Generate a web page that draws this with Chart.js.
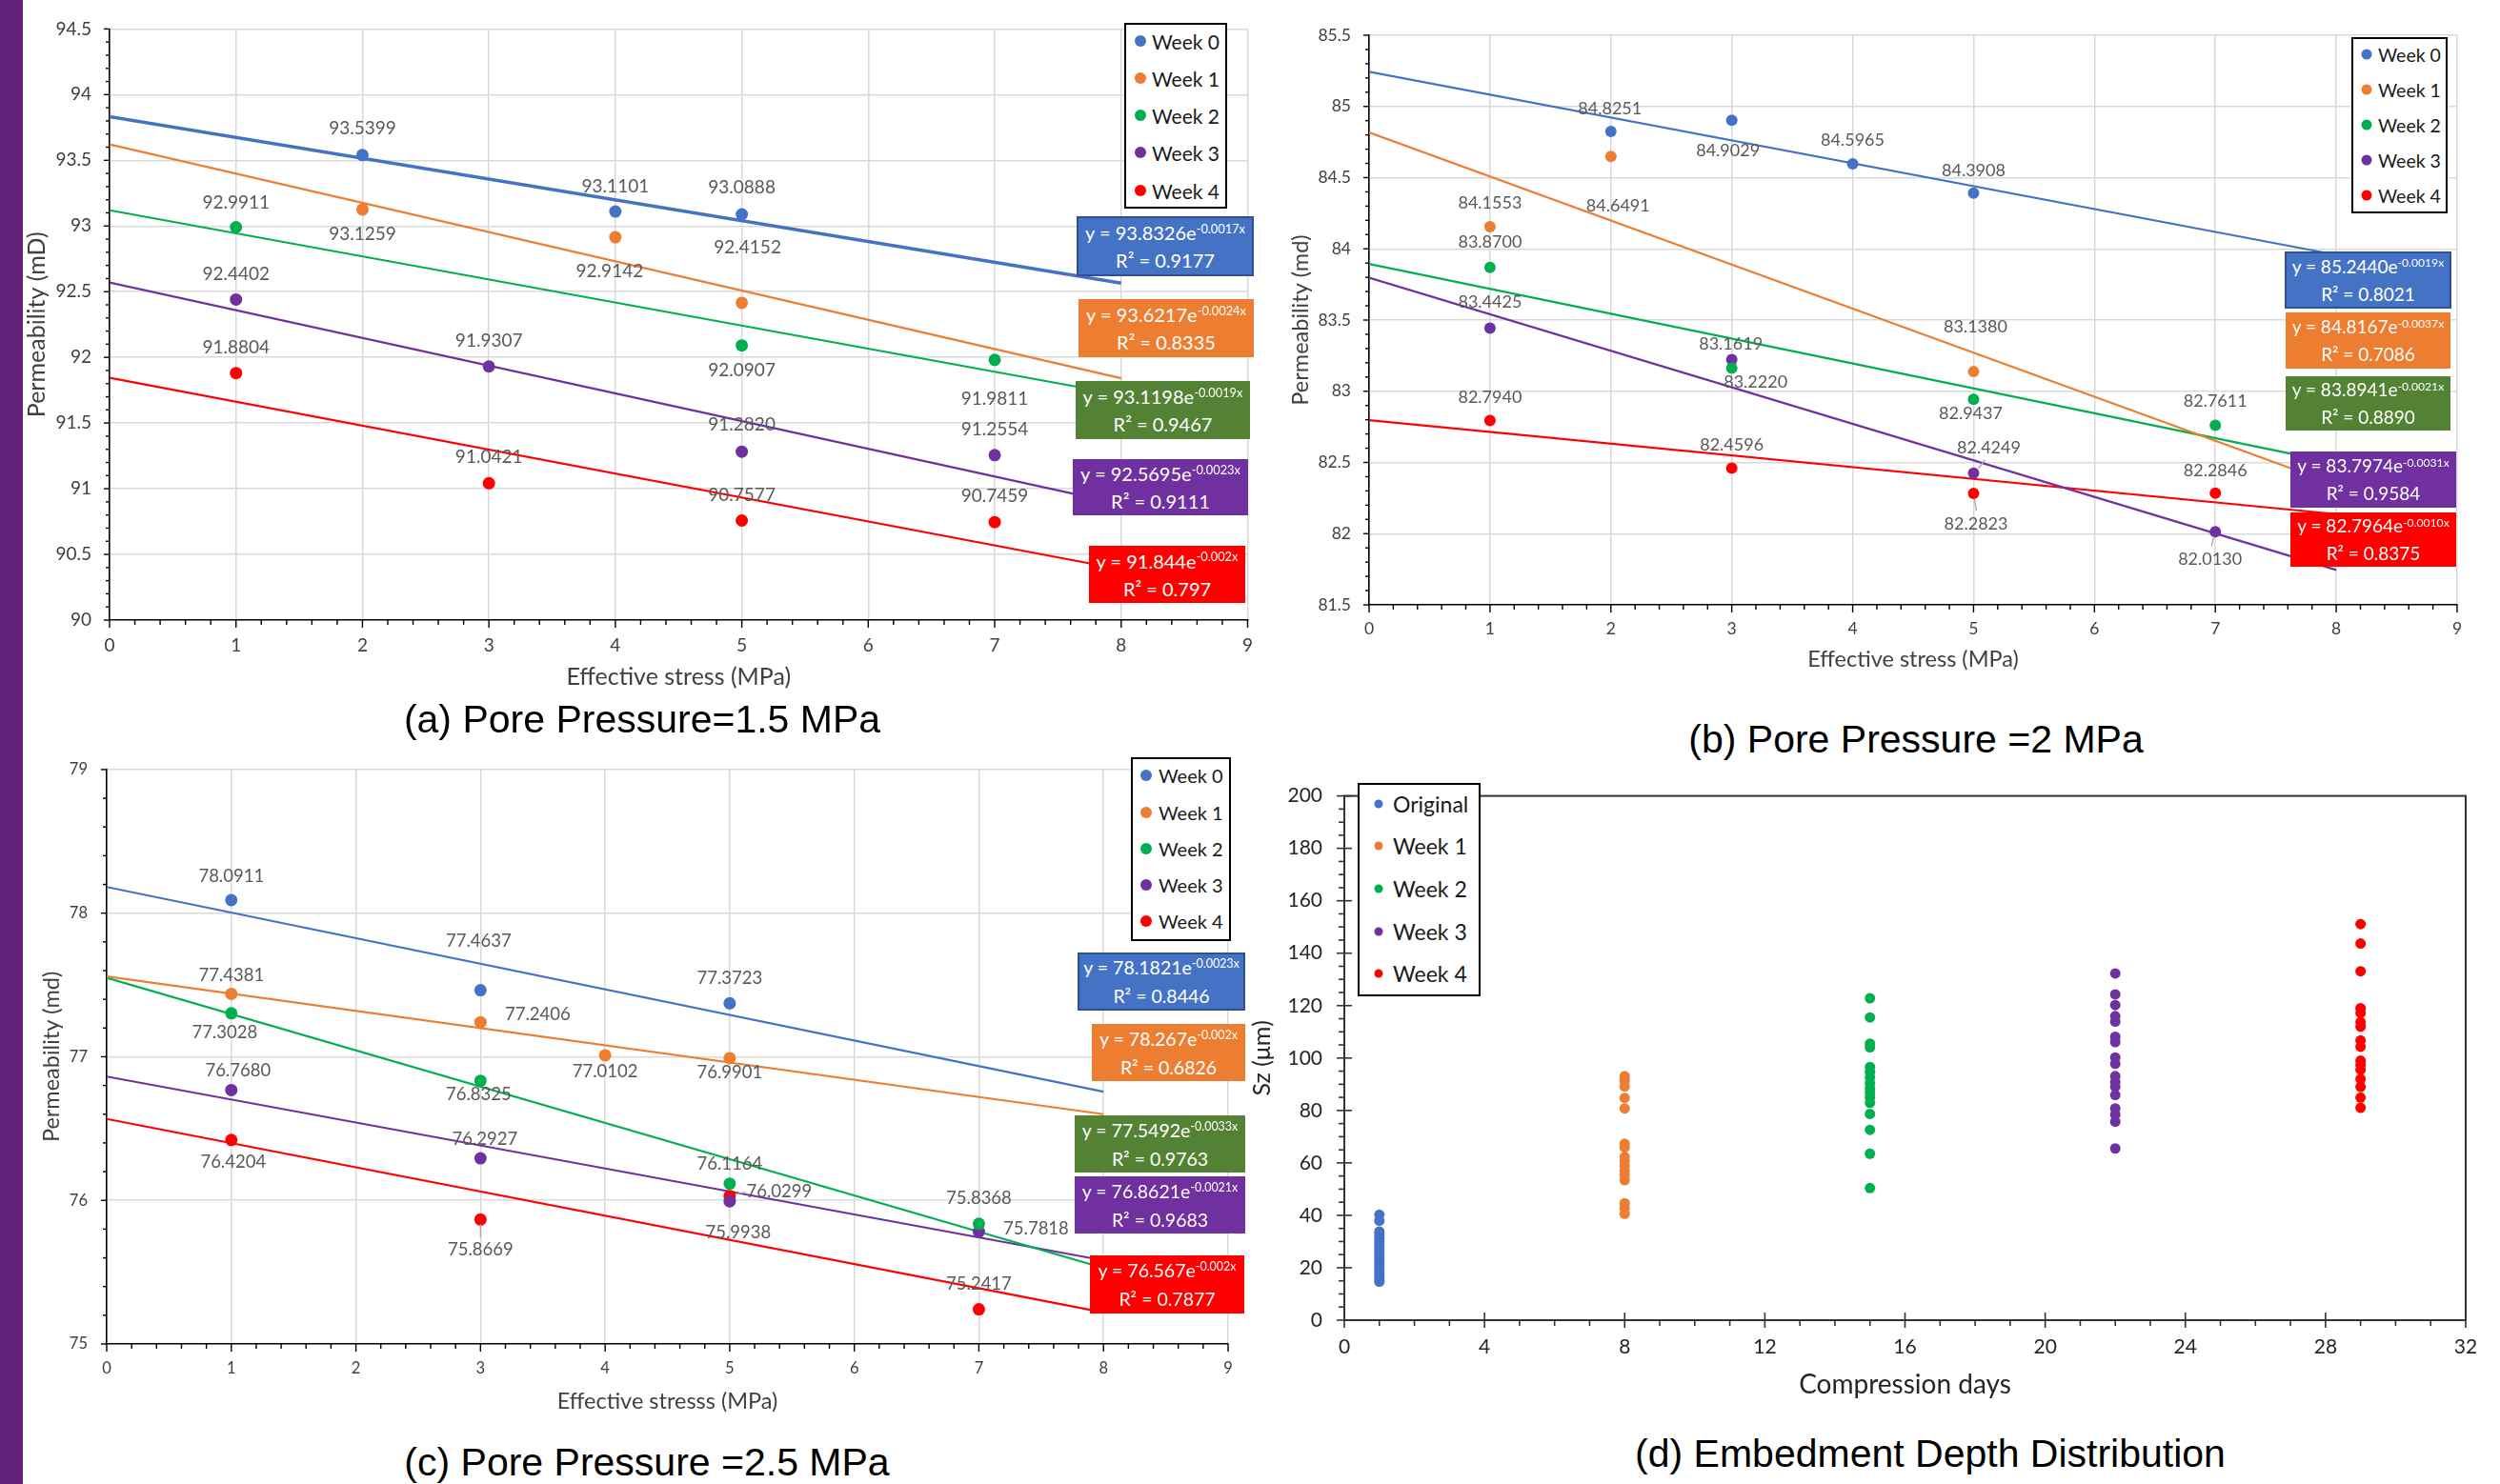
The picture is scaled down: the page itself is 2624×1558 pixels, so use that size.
<!DOCTYPE html>
<html><head><meta charset="utf-8">
<script src="https://cdn.jsdelivr.net/npm/chart.js@4.4.1/dist/chart.umd.min.js"></script>
<style>
html,body{margin:0;padding:0;background:#fff;}
body{width:2624px;height:1558px;position:relative;overflow:hidden;font-family:Lato,"Open Sans",sans-serif;}
#stripe{position:absolute;left:0;top:0;width:24px;height:1558px;background:#62247b;}
canvas{position:absolute;}
.ptitle{position:absolute;font-family:"Liberation Sans",Arial,sans-serif;font-size:41px;color:#000;white-space:nowrap;transform:translate(-50%,-50%);}
.eq{position:absolute;box-sizing:border-box;color:#fff;display:flex;flex-direction:column;justify-content:center;align-items:center;font-family:Lato,sans-serif;white-space:nowrap;}
.eq .sup{font-size:0.64em;position:relative;top:-0.55em;}
.legend{position:absolute;box-sizing:border-box;border:2px solid #000;background:#fff;}
.litem{position:absolute;white-space:nowrap;transform:translateY(-50%);font-family:Lato,sans-serif;color:#1a1a1a;}
.ldot{position:absolute;border-radius:50%;transform:translate(-50%,-50%);}
</style></head>
<body>
<div id="stripe"></div>
<script>
// ---------------- DATA ----------------
const WEEKS = ['Week 0','Week 1','Week 2','Week 3','Week 4'];
const D_LABELS = ['Original','Week 1','Week 2','Week 3','Week 4'];
const TREND_X = [0, 8];

// (a) Pore Pressure = 1.5 MPa
const A_X_W0 = [2, 4, 5];       const A_Y_W0 = [93.5399, 93.1101, 93.0888];
const A_X_W1 = [2, 4, 5];       const A_Y_W1 = [93.1259, 92.9142, 92.4152];
const A_X_W2 = [1, 5, 7];       const A_Y_W2 = [92.9911, 92.0907, 91.9811];
const A_X_W3 = [1, 3, 5, 7];    const A_Y_W3 = [92.4402, 91.9307, 91.2820, 91.2554];
const A_X_W4 = [1, 3, 5, 7];    const A_Y_W4 = [91.8804, 91.0421, 90.7577, 90.7459];
const A_T_W0 = [93.8326, 92.565];
const A_T_W1 = [93.6217, 91.841];
const A_T_W2 = [93.1198, 91.715];
const A_T_W3 = [92.5695, 90.882];
const A_T_W4 = [91.844, 90.386];
const A_EQ_COEF = ['93.8326','93.6217','93.1198','92.5695','91.844'];
const A_EQ_EXP  = ['-0.0017x','-0.0024x','-0.0019x','-0.0023x','-0.002x'];
const A_EQ_R2   = ['0.9177','0.8335','0.9467','0.9111','0.797'];
const A_XTICKS = [0,1,2,3,4,5,6,7,8,9];
const A_YTICKS = [90,90.5,91,91.5,92,92.5,93,93.5,94,94.5];

// (b) Pore Pressure = 2 MPa
const B_X_W0 = [2, 3, 4, 5];    const B_Y_W0 = [84.8251, 84.9029, 84.5965, 84.3908];
const B_X_W1 = [1, 2, 5];       const B_Y_W1 = [84.1553, 84.6491, 83.1380];
const B_X_W2 = [1, 3, 5, 7];    const B_Y_W2 = [83.8700, 83.1619, 82.9437, 82.7611];
const B_X_W3 = [1, 3, 5, 7];    const B_Y_W3 = [83.4425, 83.2220, 82.4249, 82.0130];
const B_X_W4 = [1, 3, 5, 7];    const B_Y_W4 = [82.7940, 82.4596, 82.2823, 82.2846];
const B_T_W0 = [85.244, 83.958];
const B_T_W1 = [84.8167, 82.343];
const B_T_W2 = [83.8941, 82.496];
const B_T_W3 = [83.7974, 81.745];
const B_T_W4 = [82.7964, 82.137];
const B_EQ_COEF = ['85.2440','84.8167','83.8941','83.7974','82.7964'];
const B_EQ_EXP  = ['-0.0019x','-0.0037x','-0.0021x','-0.0031x','-0.0010x'];
const B_EQ_R2   = ['0.8021','0.7086','0.8890','0.9584','0.8375'];
const B_XTICKS = [0,1,2,3,4,5,6,7,8,9];
const B_YTICKS = [81.5,82,82.5,83,83.5,84,84.5,85,85.5];

// (c) Pore Pressure = 2.5 MPa
const C_X_W0 = [1, 3, 5];       const C_Y_W0 = [78.0911, 77.4637, 77.3723];
const C_X_W1 = [1, 3, 4, 5];    const C_Y_W1 = [77.4381, 77.2406, 77.0102, 76.9901];
const C_X_W2 = [1, 3, 5, 7];    const C_Y_W2 = [77.3028, 76.8325, 76.1164, 75.8368];
const C_X_W3 = [1, 3, 5, 7];    const C_Y_W3 = [76.7680, 76.2927, 75.9938, 75.7818];
const C_X_W4 = [1, 3, 5, 7];    const C_Y_W4 = [76.4204, 75.8669, 76.0299, 75.2417];
const C_T_W0 = [78.1821, 76.757];
const C_T_W1 = [77.56, 76.60];
const C_T_W2 = [77.5492, 75.529];
const C_T_W3 = [76.8621, 75.582];
const C_T_W4 = [76.567, 75.22];
const C_EQ_COEF = ['78.1821','78.267','77.5492','76.8621','76.567'];
const C_EQ_EXP  = ['-0.0023x','-0.002x','-0.0033x','-0.0021x','-0.002x'];
const C_EQ_R2   = ['0.8446','0.6826','0.9763','0.9683','0.7877'];
const C_XTICKS = [0,1,2,3,4,5,6,7,8,9];
const C_YTICKS = [75,76,77,78,79];

// (d) Embedment depth distribution
const D_DAYS = [1, 8, 15, 22, 29];
const D_ORIGINAL = [40.2, 37.9, 33.8, 32.6, 31.3, 30.0, 28.9, 27.6, 26.4, 25.2, 24.0, 22.7, 21.5, 20.3, 19.1, 17.9, 16.6, 15.4, 14.7];
const D_WEEK1 = [93.1, 91.4, 89.2, 84.8, 80.8, 67.3, 65.9, 62.3, 60.6, 58.8, 57.0, 55.3, 53.4, 44.6, 42.8, 40.6];
const D_WEEK2 = [122.8, 115.5, 105.5, 104.1, 96.6, 94.7, 92.6, 90.4, 88.4, 86.7, 84.9, 82.9, 78.7, 72.6, 63.5, 50.4];
const D_WEEK3 = [132.3, 124.3, 120.2, 116.0, 113.9, 108.1, 106.1, 100.2, 97.8, 93.1, 90.8, 89.0, 85.9, 80.8, 78.4, 75.7, 65.5];
const D_WEEK4 = [151.1, 143.7, 133.1, 119.0, 117.2, 113.7, 112.0, 106.7, 104.3, 99.0, 97.3, 95.5, 92.0, 89.0, 84.9, 81.0];
const D_XTICKS = [0,4,8,12,16,20,24,28,32];
const D_YTICKS = [0,20,40,60,80,100,120,140,160,180,200];

// ---------------- STYLE ----------------
const COLORS = ['#4472c4','#ed7d31','#00b050','#7030a0','#ff0000'];
const BOX_COLORS = ['#4472c4','#ed7d31','#548235','#7030a0','#ff0000'];

// label offsets [dx, dy, (leader x1,y1,x2,y2)] relative to point, px
const A_OFF = [
  [[0,-28],[0,-26],[0,-28]],
  [[0,26],[-6,36],[6,-58]],
  [[0,-26],[0,26],[0,41]],
  [[0,-27],[0,-27],[0,-28],[0,-27]],
  [[0,-27],[0,-27],[0,-27],[0,-27]]
];
const B_OFF = [
  [[-1,-24],[-4,32],[0,-25],[0,-24]],
  [[0,-25],[7.5,52],[2,-47]],
  [[0,-26],[-1,-25],[-3,15],[0,-25]],
  [[0,-27],[25,24],[16,-27,5,-5,12,-14],[-5.6,28.5,-2,6,-4,15]],
  [[0,-24],[0,-24],[2.6,32,1,6,3,18],[0,-24]]
];
const C_OFF = [
  [[0,-25],[-2,-52],[0,-26]],
  [[0,-19],[60,-8.6],[0,17],[0,15]],
  [[-7,20],[-2,14],[0,-21],[0,-27]],
  [[7,-20],[4.5,-20],[9,33],[60,-3.5]],
  [[2,22.7],[0,32,0,5,0,19],[52,-5,7,-2,17,-4],[0,-27]]
];

const SPEC = {};

// ---------------- PLUGINS ----------------
const tickMarks = {
  id: 'tickMarks',
  afterDraw(chart) {
    const spec = SPEC[chart.canvas.id]; const a = chart.chartArea; const ctx = chart.ctx;
    ctx.save(); ctx.strokeStyle = spec.axisColor; ctx.lineWidth = spec.tickWidth;
    ['x','y'].forEach(ax => {
      const t = spec.ticks[ax]; const sc = chart.scales[ax];
      const n = Math.round((sc.max - sc.min) / t.minor);
      for (let i = 0; i <= n; i++) {
        const v = sc.min + i * t.minor;
        const q = v / t.major; const isMajor = Math.abs(q - Math.round(q)) < 1e-6;
        const out = isMajor ? t.majorOut : t.minorOut; const inn = isMajor ? (t.majorIn || 0) : 0;
        const p = sc.getPixelForValue(v);
        ctx.beginPath();
        if (ax === 'x') { ctx.moveTo(p, a.bottom - inn); ctx.lineTo(p, a.bottom + out); }
        else { ctx.moveTo(a.left + inn, p); ctx.lineTo(a.left - out, p); }
        ctx.stroke();
      }
    });
    if (spec.frame) { ctx.lineWidth = spec.axisWidth; ctx.strokeRect(a.left, a.top, a.right - a.left, a.bottom - a.top); }
    ctx.restore();
  }
};
const valueLabels = {
  id: 'valueLabels',
  afterDatasetsDraw(chart) {
    const spec = SPEC[chart.canvas.id]; if (!spec.labelFont) return;
    const ctx = chart.ctx; ctx.save();
    ctx.font = spec.labelFont; ctx.fillStyle = '#595959'; ctx.textAlign = 'center'; ctx.textBaseline = 'middle';
    ctx.strokeStyle = '#a6a6a6'; ctx.lineWidth = 1.3;
    chart.data.datasets.forEach((ds, di) => {
      if (!ds.labelOffsets) return;
      const meta = chart.getDatasetMeta(di);
      meta.data.forEach((el, j) => {
        const o = ds.labelOffsets[j]; if (!o) return;
        if (o.length > 2) { ctx.beginPath(); ctx.moveTo(el.x + o[2], el.y + o[3]); ctx.lineTo(el.x + o[4], el.y + o[5]); ctx.stroke(); }
        ctx.fillText(ds.data[j].y.toFixed(4), el.x + o[0], el.y + o[1]);
      });
    });
    ctx.restore();
  }
};

function buildPanel(cfg) {
  const cv = document.createElement('canvas');
  cv.id = cfg.id; cv.width = cfg.W; cv.height = cfg.H;
  Object.assign(cv.style, {left: cfg.L + 'px', top: cfg.T + 'px', width: cfg.W + 'px', height: cfg.H + 'px'});
  document.body.appendChild(cv);
  SPEC[cfg.id] = cfg;
  const datasets = [];
  cfg.series.forEach((s, i) => {
    if (s.trend) datasets.push({ data: TREND_X.map((x, j) => ({x, y: s.trend[j]})), showLine: true,
      borderColor: COLORS[i], borderWidth: s.tw || 2.2, pointRadius: 0, pointHoverRadius: 0, order: 2 });
    datasets.push({ data: s.x.map((x, j) => ({x, y: s.y[j]})), showLine: false, backgroundColor: COLORS[i],
      borderColor: COLORS[i], borderWidth: 0, pointRadius: cfg.r, pointHoverRadius: cfg.r, order: 1, labelOffsets: s.off });
  });
  const gridCol = (min) => (c) => (c.tick && Math.abs(c.tick.value - min) < 1e-9) ? 'rgba(0,0,0,0)' : '#d9d9d9';
  new Chart(cv, {
    type: 'scatter',
    data: { datasets },
    options: {
      responsive: false, animation: false, devicePixelRatio: 1, events: [],
      layout: { padding: cfg.pad },
      plugins: { legend: { display: false }, tooltip: { enabled: false } },
      scales: {
        x: { type: 'linear', min: cfg.xTicks[0], max: cfg.xTicks[cfg.xTicks.length - 1],
          afterFit: s => { s.height = cfg.xH; },
          afterBuildTicks: s => { s.ticks = cfg.xTicks.map(v => ({value: v})); },
          grid: { display: cfg.grid, color: gridCol(cfg.xTicks[0]), lineWidth: 1.5, drawTicks: false },
          border: { display: true, color: cfg.axisColor, width: cfg.axisWidth },
          ticks: { padding: cfg.xPad, font: {family: 'Lato', size: cfg.tickSize}, color: cfg.tickColor,
            maxRotation: 0, autoSkip: false, callback: v => String(v) },
          title: { display: true, text: cfg.xTitle, font: {family: 'Lato', size: cfg.xTitleSize}, color: cfg.titleColor,
            padding: {top: 0, bottom: cfg.xTitlePad} } },
        y: { type: 'linear', min: cfg.yTicks[0], max: cfg.yTicks[cfg.yTicks.length - 1],
          afterFit: s => { s.width = cfg.yW; },
          afterBuildTicks: s => { s.ticks = cfg.yTicks.map(v => ({value: v})); },
          grid: { display: cfg.grid, color: gridCol(cfg.yTicks[0]), lineWidth: 1.5, drawTicks: false },
          border: { display: true, color: cfg.axisColor, width: cfg.axisWidth },
          ticks: { padding: cfg.yPad, font: {family: 'Lato', size: cfg.tickSize}, color: cfg.tickColor,
            autoSkip: false, callback: v => String(v) },
          title: { display: true, text: cfg.yTitle, font: {family: 'Lato', size: cfg.yTitleSize}, color: cfg.titleColor,
            padding: {top: cfg.yTitlePad, bottom: 0} } }
      }
    },
    plugins: [tickMarks, valueLabels]
  });
}

function eqBoxes(pos, coef, exp, r2, fs, lh) {
  pos.forEach((p, i) => {
    const d = document.createElement('div'); d.className = 'eq';
    Object.assign(d.style, {left: p[0] + 'px', top: p[1] + 'px', width: p[2] + 'px', height: p[3] + 'px',
      background: BOX_COLORS[i], fontSize: fs + 'px', lineHeight: lh + 'px',
      border: i === 0 ? '2px solid #2f528f' : 'none'});
    d.innerHTML = '<div>y = ' + coef[i] + 'e<span class="sup">' + exp[i] + '</span></div><div>R\u00B2 = ' + r2[i] + '</div>';
    document.body.appendChild(d);
  });
}
function legendBox(box, dotX, textX, ys, fs, r, labels) {
  const b = document.createElement('div'); b.className = 'legend';
  Object.assign(b.style, {left: box[0] + 'px', top: box[1] + 'px', width: box[2] + 'px', height: box[3] + 'px'});
  document.body.appendChild(b);
  labels.forEach((t, i) => {
    const d = document.createElement('div'); d.className = 'ldot';
    Object.assign(d.style, {left: dotX + 'px', top: ys[i] + 'px', width: 2 * r + 'px', height: 2 * r + 'px', background: COLORS[i]});
    document.body.appendChild(d);
    const s = document.createElement('div'); s.className = 'litem'; s.textContent = t;
    Object.assign(s.style, {left: textX + 'px', top: ys[i] + 'px', fontSize: fs + 'px'});
    document.body.appendChild(s);
  });
}
function panelTitle(text, cx, cy) {
  const d = document.createElement('div'); d.className = 'ptitle'; d.textContent = text;
  Object.assign(d.style, {left: cx + 'px', top: cy + 'px'});
  document.body.appendChild(d);
}
const PERM_TICKS = (major, minor) => ({ x: {major: 1, minor: 0.2, majorOut: 8, minorOut: 5}, y: {major, minor, majorOut: 6, minorOut: 4} });

// ---------------- PANEL (a) ----------------
buildPanel({ id: 'ca', L: 24, T: 0, W: 1306, H: 740, pad: {left: 0, top: 23, right: 14, bottom: 0},
  yW: 91, xH: 89, xTicks: A_XTICKS, yTicks: A_YTICKS, grid: true, r: 6.5,
  axisColor: '#000', axisWidth: 1.6, tickWidth: 1.4, tickColor: '#404040', titleColor: '#404040',
  tickSize: 19, xPad: 15, yPad: 19, xTitle: 'Effective stress (MPa)', yTitle: 'Permeability (mD)',
  xTitleSize: 25, yTitleSize: 25, xTitlePad: 14, yTitlePad: 0, labelFont: '19px Lato',
  ticks: PERM_TICKS(0.5, 0.1),
  series: [
    {x: A_X_W0, y: A_Y_W0, trend: A_T_W0, off: A_OFF[0], tw: 3.4},
    {x: A_X_W1, y: A_Y_W1, trend: A_T_W1, off: A_OFF[1]},
    {x: A_X_W2, y: A_Y_W2, trend: A_T_W2, off: A_OFF[2]},
    {x: A_X_W3, y: A_Y_W3, trend: A_T_W3, off: A_OFF[3]},
    {x: A_X_W4, y: A_Y_W4, trend: A_T_W4, off: A_OFF[4]}
  ]});
legendBox([1180, 24, 108, 195], 1197, 1209, [43, 82, 121, 160, 200], 21, 6, WEEKS);
eqBoxes([[1130,227,186,63],[1132,314,184,61],[1129,400,183,61],[1126,482,184,59],[1143,573,164,60]],
  A_EQ_COEF, A_EQ_EXP, A_EQ_R2, 20, 26);
panelTitle('(a) Pore Pressure=1.5 MPa', 674, 755);

// ---------------- PANEL (b) ----------------
buildPanel({ id: 'cb', L: 1340, T: 0, W: 1284, H: 720, pad: {left: 0, top: 37, right: 45, bottom: 0},
  yW: 97, xH: 85, xTicks: B_XTICKS, yTicks: B_YTICKS, grid: true, r: 6,
  axisColor: '#000', axisWidth: 1.6, tickWidth: 1.4, tickColor: '#404040', titleColor: '#404040',
  tickSize: 17.5, xPad: 15, yPad: 19, xTitle: 'Effective stress (MPa)', yTitle: 'Permeability (md)',
  xTitleSize: 23.5, yTitleSize: 23.5, xTitlePad: 13, yTitlePad: 11, labelFont: '18px Lato',
  ticks: PERM_TICKS(0.5, 0.1),
  series: [
    {x: B_X_W0, y: B_Y_W0, trend: B_T_W0, off: B_OFF[0]},
    {x: B_X_W1, y: B_Y_W1, trend: B_T_W1, off: B_OFF[1]},
    {x: B_X_W2, y: B_Y_W2, trend: B_T_W2, off: B_OFF[2]},
    {x: B_X_W3, y: B_Y_W3, trend: B_T_W3, off: B_OFF[3]},
    {x: B_X_W4, y: B_Y_W4, trend: B_T_W4, off: B_OFF[4]}
  ]});
legendBox([2468, 39, 101, 185], 2484, 2496, [57, 94, 131, 168, 205], 19.5, 5.5, WEEKS);
eqBoxes([[2398,264,175,60],[2399,328,173,59],[2399,395,173,57],[2404,474,174,59],[2404,538,174,57]],
  B_EQ_COEF, B_EQ_EXP, B_EQ_R2, 19, 25.7);
panelTitle('(b) Pore Pressure =2 MPa', 2011, 776);

// ---------------- PANEL (c) ----------------
buildPanel({ id: 'cc', L: 24, T: 778, W: 1306, H: 720, pad: {left: 0, top: 16, right: 41, bottom: 0},
  yW: 88, xH: 87, xTicks: C_XTICKS, yTicks: C_YTICKS, grid: true, r: 6.5,
  axisColor: '#000', axisWidth: 1.6, tickWidth: 1.4, tickColor: '#404040', titleColor: '#404040',
  tickSize: 16.5, xPad: 16, yPad: 20, xTitle: 'Effective stresss (MPa)', yTitle: 'Permeability (md)',
  xTitleSize: 23.5, yTitleSize: 23.5, xTitlePad: 12, yTitlePad: 16, labelFont: '18.5px Lato',
  ticks: PERM_TICKS(1, 0.2),
  series: [
    {x: C_X_W0, y: C_Y_W0, trend: C_T_W0, off: C_OFF[0]},
    {x: C_X_W1, y: C_Y_W1, trend: C_T_W1, off: C_OFF[1]},
    {x: C_X_W2, y: C_Y_W2, trend: C_T_W2, off: C_OFF[2]},
    {x: C_X_W3, y: C_Y_W3, trend: C_T_W3, off: C_OFF[3]},
    {x: C_X_W4, y: C_Y_W4, trend: C_T_W4, off: C_OFF[4]}
  ]});
legendBox([1187, 795, 105, 193], 1203, 1216, [814, 853, 891, 929, 967], 20, 6, WEEKS);
eqBoxes([[1131,1000,176,61],[1146,1075,161,60],[1128,1171,179,60],[1128,1235,179,60],[1144,1318,162,61]],
  C_EQ_COEF, C_EQ_EXP, C_EQ_R2, 19.5, 27);
panelTitle('(c) Pore Pressure =2.5 MPa', 679, 1535);

// ---------------- PANEL (d) ----------------
const dSeries = [D_ORIGINAL, D_WEEK1, D_WEEK2, D_WEEK3, D_WEEK4].map((ys, i) => ({ x: ys.map(() => D_DAYS[i]), y: ys }));
buildPanel({ id: 'cd', L: 1300, T: 800, W: 1324, H: 700, pad: {left: 0, top: 20, right: 36, bottom: 0},
  yW: 111, xH: 114, xTicks: D_XTICKS, yTicks: D_YTICKS, grid: false, r: 5.5, frame: true,
  axisColor: '#333', axisWidth: 2, tickWidth: 1.6, tickColor: '#262626', titleColor: '#262626',
  tickSize: 21, xPad: 16, yPad: 23, xTitle: 'Compression days', yTitle: 'Sz (\u03BCm)',
  xTitleSize: 28, yTitleSize: 25, xTitlePad: 29, yTitlePad: 10, labelFont: null,
  ticks: { x: {major: 4, minor: 1, majorOut: 8, majorIn: 8, minorOut: 6}, y: {major: 20, minor: 5, majorOut: 8, majorIn: 8, minorOut: 6} },
  series: dSeries });
legendBox([1425, 822, 129, 224], 1447, 1462, [844, 888, 933, 978, 1022], 23, 4.5, D_LABELS);
panelTitle('(d) Embedment Depth Distribution', 2026, 1526);
</script>
</body></html>
